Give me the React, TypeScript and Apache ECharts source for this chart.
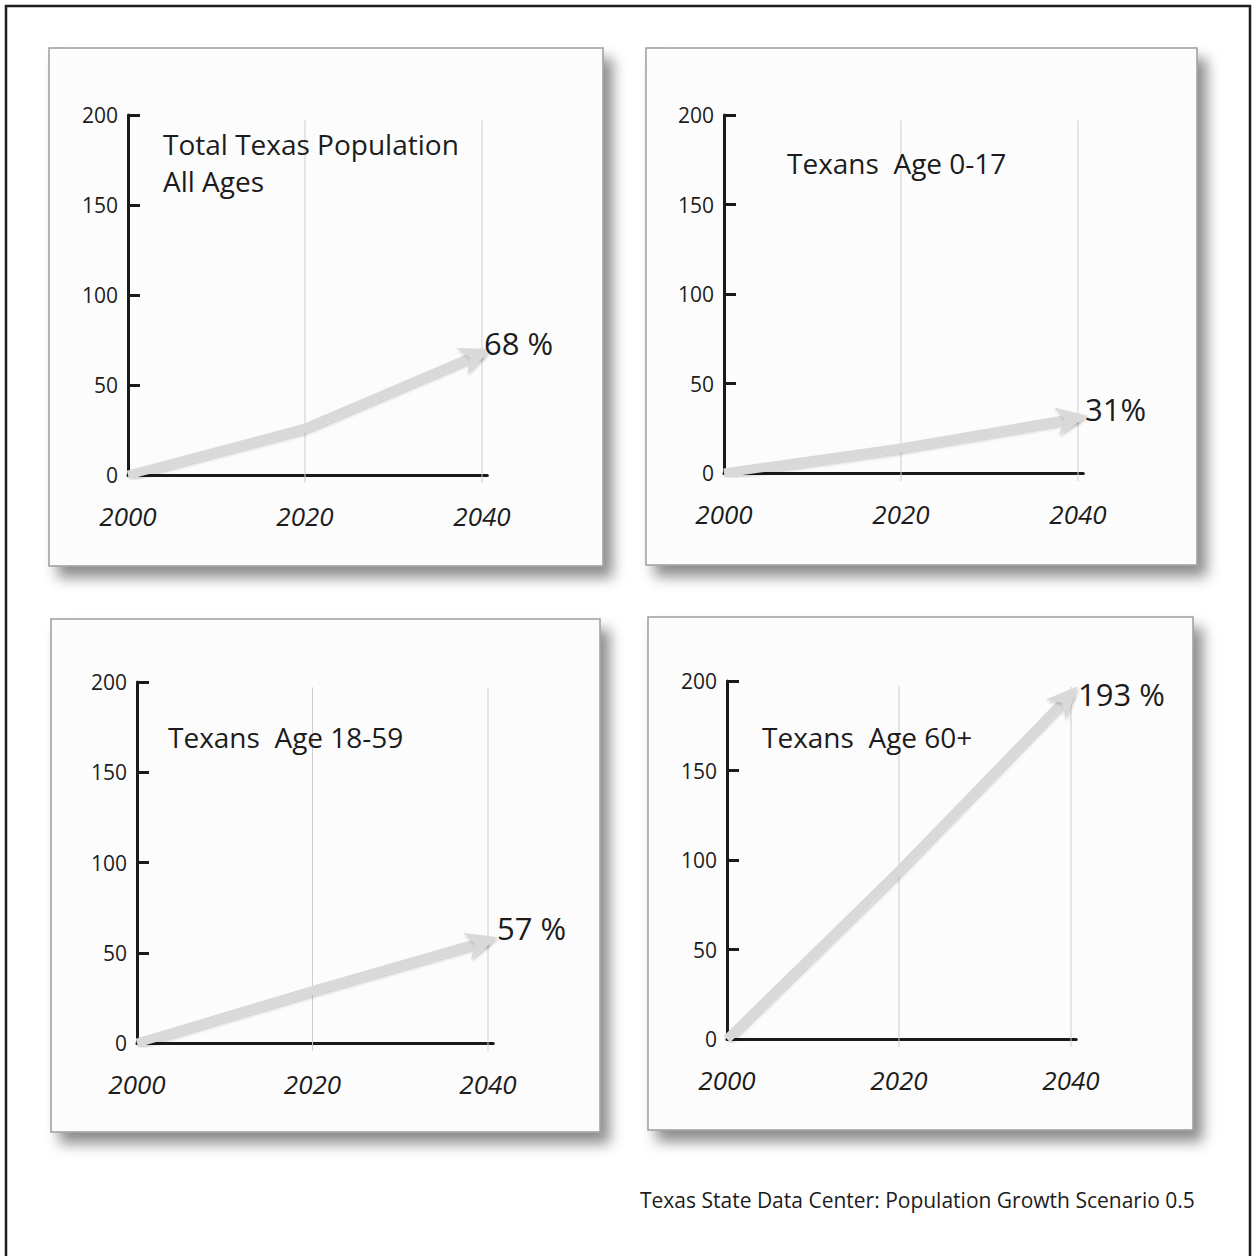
import React, { useEffect, useRef } from "react";
import * as echarts from "echarts";

// ---- data ----
const YEARS = [2000, 2020, 2040];
const TOTAL_ALL_AGES = [0, 26, 68];
const AGE_0_17 = [0, 14, 31];
const AGE_18_59 = [0, 29, 57];
const AGE_60_PLUS = [0, 94, 193];
const SERIES_VALUES = [TOTAL_ALL_AGES, AGE_0_17, AGE_18_59, AGE_60_PLUS];
const END_LABELS = ["68 %", "31%", "57 %", "193 %"];
const PANEL_TITLES = [
  "Total Texas Population\nAll Ages",
  "Texans  Age 0-17",
  "Texans  Age 18-59",
  "Texans  Age 60+",
];
const GRID_YEARS = [2020, 2040];
const SOURCE = "Texas State Data Center: Population Growth Scenario 0.5";

// ---- layout (pixels) ----
const LAYOUT = [
  { rect: [49, 48, 554, 518], x0: 128, x40: 482, y0: 475, y200: 115, title: [163, 144], lab: [2, -10] },
  { rect: [646, 48, 551, 517], x0: 724, x40: 1078, y0: 473, y200: 115, title: [787, 163], lab: [7, -9] },
  { rect: [51, 619, 549, 513], x0: 137, x40: 488, y0: 1043, y200: 682, title: [168, 737], lab: [9, -12] },
  { rect: [648, 617, 545, 513], x0: 727, x40: 1071, y0: 1039, y200: 681, title: [762, 737], lab: [7, 0] },
];

const FONT = "'Open Sans', 'Noto Sans', sans-serif";
const INK = "#1c1c1c";
const AXIS_INK = "#1a1a1a";
const ARROW = "#d9d9d9";
const X_MAX = 2040.6;

function buildOption() {
  const grid: any[] = [];
  const xAxis: any[] = [];
  const yAxis: any[] = [];
  const series: any[] = [];
  const title: any[] = [];
  const graphic: any[] = [];

  graphic.push({
    type: "rect",
    z: -20,
    shape: { x: 6, y: 6, width: 1244, height: 1280 },
    style: { fill: "none", stroke: "#1e1e1e", lineWidth: 2.5 },
  });

  LAYOUT.forEach((p, i) => {
    const [rx, ry, rw, rh] = p.rect;
    graphic.push({
      type: "rect",
      z: -10,
      shape: { x: rx, y: ry, width: rw, height: rh },
      style: {
        fill: "#fcfcfc",
        stroke: "#9c9c9c",
        lineWidth: 1.5,
        shadowBlur: 14,
        shadowOffsetX: 9,
        shadowOffsetY: 11,
        shadowColor: "rgba(0,0,0,0.45)",
      },
    });

    const pxPerYear = (p.x40 - p.x0) / 40;
    grid.push({
      left: p.x0,
      top: p.y200,
      width: pxPerYear * (X_MAX - 2000),
      height: p.y0 - p.y200,
      containLabel: false,
    });
    xAxis.push({
      type: "value",
      gridIndex: i,
      min: 2000,
      max: X_MAX,
      interval: 20,
      axisLine: { show: true, onZero: true, lineStyle: { color: AXIS_INK, width: 3 } },
      axisTick: { show: false },
      splitLine: { show: false },
      axisLabel: {
        margin: 28,
        fontSize: 26,
        fontStyle: "italic",
        fontFamily: FONT,
        color: INK,
        formatter: (v: number) => (v % 20 === 0 ? String(v) : ""),
      },
    });
    yAxis.push({
      type: "value",
      gridIndex: i,
      min: 0,
      max: 200,
      interval: 50,
      axisLine: { show: true, lineStyle: { color: AXIS_INK, width: 3 } },
      axisTick: { show: true, inside: true, length: 12, lineStyle: { color: AXIS_INK, width: 3 } },
      splitLine: { show: false },
      axisLabel: { margin: 10, fontSize: 21, fontFamily: FONT, color: INK },
    });

    // vertical guide lines
    series.push({
      type: "custom",
      xAxisIndex: i,
      yAxisIndex: i,
      silent: true,
      clip: false,
      z: 1,
      data: GRID_YEARS.map((y) => [y, 0]),
      renderItem: (params: any, api: any) => {
        const yr = api.value(0);
        const top = api.coord([yr, 197]);
        const bot = api.coord([yr, 0]);
        return {
          type: "line",
          shape: { x1: top[0], y1: top[1], x2: bot[0], y2: bot[1] + 8 },
          style: { stroke: "#cdcdcd", lineWidth: 1 },
        };
      },
    });

    const vals = SERIES_VALUES[i];
    // arrow shaft
    series.push({
      type: "line",
      xAxisIndex: i,
      yAxisIndex: i,
      silent: true,
      z: 3,
      showSymbol: false,
      symbol: "none",
      data: YEARS.map((y, k) => [y, vals[k]]),
      lineStyle: {
        color: ARROW,
        width: 9,
        cap: "butt",
        join: "round",
        shadowBlur: 3,
        shadowOffsetX: 1,
        shadowOffsetY: 2,
        shadowColor: "rgba(0,0,0,0.2)",
      },
    });

    // arrow head + end label
    const n = YEARS.length;
    series.push({
      type: "custom",
      xAxisIndex: i,
      yAxisIndex: i,
      silent: true,
      clip: false,
      z: 4,
      data: [[YEARS[n - 1], vals[n - 1]]],
      renderItem: (params: any, api: any) => {
        const end = api.coord([YEARS[n - 1], vals[n - 1]]);
        const prev = api.coord([YEARS[n - 2], vals[n - 2]]);
        const dx = end[0] - prev[0];
        const dy = end[1] - prev[1];
        const len = Math.sqrt(dx * dx + dy * dy) || 1;
        const ux = dx / len;
        const uy = dy / len;
        const nx = -uy;
        const ny = ux;
        const tip = [end[0] + ux * 10, end[1] + uy * 10];
        const L = 32;
        const W = 14;
        const base = [tip[0] - ux * L, tip[1] - uy * L];
        const notch = [tip[0] - ux * 23, tip[1] - uy * 23];
        const left = [base[0] + nx * W, base[1] + ny * W];
        const right = [base[0] - nx * W, base[1] - ny * W];
        return {
          type: "group",
          children: [
            {
              type: "polygon",
              shape: { points: [tip, left, notch, right] },
              style: {
                fill: ARROW,
                shadowBlur: 3,
                shadowOffsetX: 1,
                shadowOffsetY: 2,
                shadowColor: "rgba(0,0,0,0.2)",
              },
            },
            {
              type: "text",
              x: end[0] + p.lab[0],
              y: end[1] + p.lab[1],
              style: {
                text: END_LABELS[i],
                fill: INK,
                fontSize: 31,
                fontFamily: FONT,
                align: "left",
                verticalAlign: "middle",
              },
            },
          ],
        };
      },
    });

    title.push({
      text: PANEL_TITLES[i],
      left: p.title[0],
      top: p.title[1] - 18.5,
      padding: 0,
      textStyle: {
        fontSize: 28,
        fontWeight: "normal",
        fontFamily: FONT,
        color: INK,
        lineHeight: 37,
      },
    });
  });

  graphic.push({
    type: "text",
    x: 640,
    y: 1200,
    style: {
      text: SOURCE,
      fill: INK,
      fontSize: 21,
      fontFamily: FONT,
      align: "left",
      verticalAlign: "middle",
    },
  });

  return {
    animation: false,
    backgroundColor: "#ffffff",
    title,
    grid,
    xAxis,
    yAxis,
    series,
    graphic,
  };
}

export default function App() {
  const ref = useRef<HTMLDivElement>(null);
  useEffect(() => {
    if (!ref.current) return;
    const chart = echarts.init(ref.current, undefined, { renderer: "svg" });
    chart.setOption(buildOption() as any);
    return () => chart.dispose();
  }, []);
  return (
    <div
      ref={ref}
      style={{ position: "absolute", left: 0, top: 0, width: 1254, height: 1256 }}
    />
  );
}
